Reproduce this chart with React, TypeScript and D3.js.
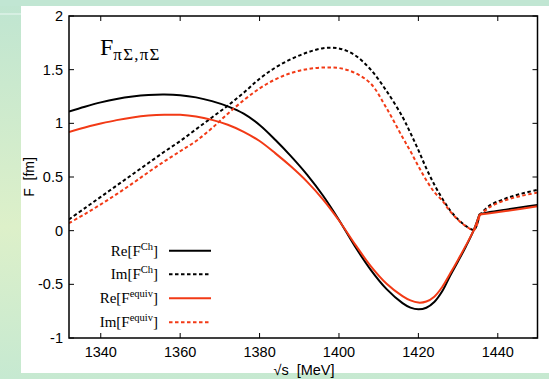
import React from "react";
import * as d3 from "d3";

const energies = [1332, 1336, 1340, 1344, 1348, 1352, 1356, 1360, 1364, 1368, 1372, 1376, 1380, 1384, 1388, 1392, 1396, 1400, 1404, 1408, 1412, 1416, 1418, 1420, 1422, 1424, 1426, 1428, 1430, 1432, 1434, 1435.4, 1438, 1442, 1446, 1450];
const cuspIndex = 31;

const reCh = [1.11, 1.155, 1.195, 1.227, 1.25, 1.264, 1.268, 1.262, 1.242, 1.207, 1.158, 1.09, 0.985, 0.845, 0.69, 0.52, 0.325, 0.1, -0.145, -0.365, -0.545, -0.675, -0.717, -0.733, -0.718, -0.665, -0.565, -0.42, -0.285, -0.145, 0.01, 0.154, 0.174, 0.196, 0.218, 0.24];
const imCh = [0.105, 0.21, 0.315, 0.42, 0.525, 0.63, 0.735, 0.835, 0.945, 1.055, 1.165, 1.285, 1.415, 1.52, 1.6, 1.66, 1.7, 1.698, 1.635, 1.5, 1.3, 1.06, 0.91, 0.75, 0.58, 0.43, 0.3, 0.19, 0.105, 0.043, 0.008, 0.146, 0.235, 0.3, 0.345, 0.38];
const reEq = [0.92, 0.962, 0.998, 1.03, 1.055, 1.072, 1.08, 1.079, 1.063, 1.032, 0.987, 0.921, 0.835, 0.72, 0.595, 0.455, 0.29, 0.095, -0.125, -0.33, -0.495, -0.61, -0.65, -0.67, -0.66, -0.615, -0.525, -0.4, -0.27, -0.135, 0.01, 0.15, 0.163, 0.183, 0.205, 0.228];
const imEq = [0.07, 0.155, 0.245, 0.34, 0.44, 0.545, 0.645, 0.74, 0.835, 0.955, 1.09, 1.215, 1.325, 1.41, 1.47, 1.505, 1.52, 1.515, 1.47, 1.37, 1.14, 0.87, 0.74, 0.6, 0.47, 0.36, 0.28, 0.18, 0.1, 0.04, 0.006, 0.14, 0.22, 0.285, 0.325, 0.355];

const xTicks = [1340, 1360, 1380, 1400, 1420, 1440];
const yTicks = [-1, -0.5, 0, 0.5, 1, 1.5, 2];
const yTickLabels = ["-1", "-0.5", "0", "0.5", "1", "1.5", "2"];

const seriesNames = ["Re", "Im", "Re", "Im"];
const seriesSup = ["Ch", "Ch", "equiv", "equiv"];

const BLACK = "#000000";
const RED = "#f23a16";

export default function App() {
  const left = 69, right = 537.5, top = 16, bottom = 338;
  const x = d3.scaleLinear().domain([1332, 1450]).range([left, right]);
  const y = d3.scaleLinear().domain([-1, 2]).range([bottom, top]);

  const series = [
    { vals: reCh, color: BLACK, dash: null },
    { vals: imCh, color: BLACK, dash: "3.5,2.5" },
    { vals: reEq, color: RED, dash: null },
    { vals: imEq, color: RED, dash: "3.5,2.5" },
  ];

  const line = d3
    .line<[number, number]>()
    .x((d) => x(d[0]))
    .y((d) => y(d[1]))
    .curve(d3.curveCatmullRom.alpha(0.5));

  const pathFor = (vals: number[]) => {
    const pts: [number, number][] = energies.map((e, i) => [e, vals[i]]);
    const a = line(pts.slice(0, cuspIndex + 1)) || "";
    const b = line(pts.slice(cuspIndex)) || "";
    return a + b;
  };

  const tickLen = 5;
  const sans = "'Liberation Sans', Arial, Helvetica, sans-serif";
  const serif = "'Liberation Serif', 'Times New Roman', serif";
  const legendRows = [250.7, 274.3, 298.3, 322.3];

  return (
    <svg width={549} height={379} style={{ position: "absolute", left: 0, top: 0 }}>
      <defs>
        <linearGradient id="bg" x1="0" y1="0" x2="0" y2="1">
          <stop offset="0" stopColor="#bfe5d1" />
          <stop offset="0.6" stopColor="#ddf0c9" />
          <stop offset="1" stopColor="#c6e9d1" />
        </linearGradient>
        <clipPath id="plotClip">
          <rect x={left} y={top} width={right - left} height={bottom - top} />
        </clipPath>
      </defs>
      <rect x={0} y={0} width={549} height={379} fill="url(#bg)" />
      <rect x={0} y={0} width={549} height={6} fill="#c1e6d3" />
      <rect x={0} y={13} width={21} height={2} fill="#d6efe2" />
      <rect x={21} y={6} width={528} height={367} fill="#ffffff" />

      <g clipPath="url(#plotClip)">
        {series.map((s, i) => (
          <path
            key={i}
            d={pathFor(s.vals)}
            fill="none"
            stroke={s.color}
            strokeWidth={2}
            strokeLinejoin="round"
            strokeDasharray={s.dash || undefined}
          />
        ))}
      </g>

      <rect x={left} y={top} width={right - left} height={bottom - top} fill="none" stroke="#000" strokeWidth={1.5} />

      {xTicks.map((t) => (
        <g key={"x" + t}>
          <line x1={x(t)} x2={x(t)} y1={bottom} y2={bottom - tickLen} stroke="#000" strokeWidth={1} />
          <line x1={x(t)} x2={x(t)} y1={top} y2={top + tickLen} stroke="#000" strokeWidth={1} />
          <text x={x(t)} y={357} textAnchor="middle" fontFamily={sans} fontSize={14.5} fill="#000">
            {t}
          </text>
        </g>
      ))}
      {yTicks.map((t, i) => (
        <g key={"y" + t}>
          <line x1={left} x2={left + tickLen} y1={y(t)} y2={y(t)} stroke="#000" strokeWidth={1} />
          <line x1={right} x2={right - tickLen} y1={y(t)} y2={y(t)} stroke="#000" strokeWidth={1} />
          <text x={63} y={y(t) + 5} textAnchor="end" fontFamily={sans} fontSize={14.5} fill="#000">
            {yTickLabels[i]}
          </text>
        </g>
      ))}

      <text
        transform="translate(34,177) rotate(-90)"
        textAnchor="middle"
        fontFamily={sans}
        fontSize={14}
        fill="#000"
        xmlSpace="preserve"
      >
        F  [fm]
      </text>
      <text x={304} y={375} textAnchor="middle" fontFamily={sans} fontSize={14.5} fill="#000" xmlSpace="preserve">
        √s  [MeV]
      </text>

      <text x={100} y={55} fontFamily={serif} fontSize={24} fill="#000">
        F
        <tspan fontSize={17} dy={5} letterSpacing={1.2}>πΣ,πΣ</tspan>
      </text>

      {series.map((s, i) => (
        <g key={"lg" + i}>
          <text x={158} y={legendRows[i] + 5} textAnchor="end" fontFamily={serif} fontSize={15} fill="#000">
            {seriesNames[i]}[F
            <tspan fontSize={10.5} dy={-6}>{seriesSup[i]}</tspan>
            <tspan dy={6}>]</tspan>
          </text>
          <line
            x1={169}
            x2={211}
            y1={legendRows[i]}
            y2={legendRows[i]}
            stroke={s.color}
            strokeWidth={2}
            strokeDasharray={s.dash || undefined}
          />
        </g>
      ))}
    </svg>
  );
}
